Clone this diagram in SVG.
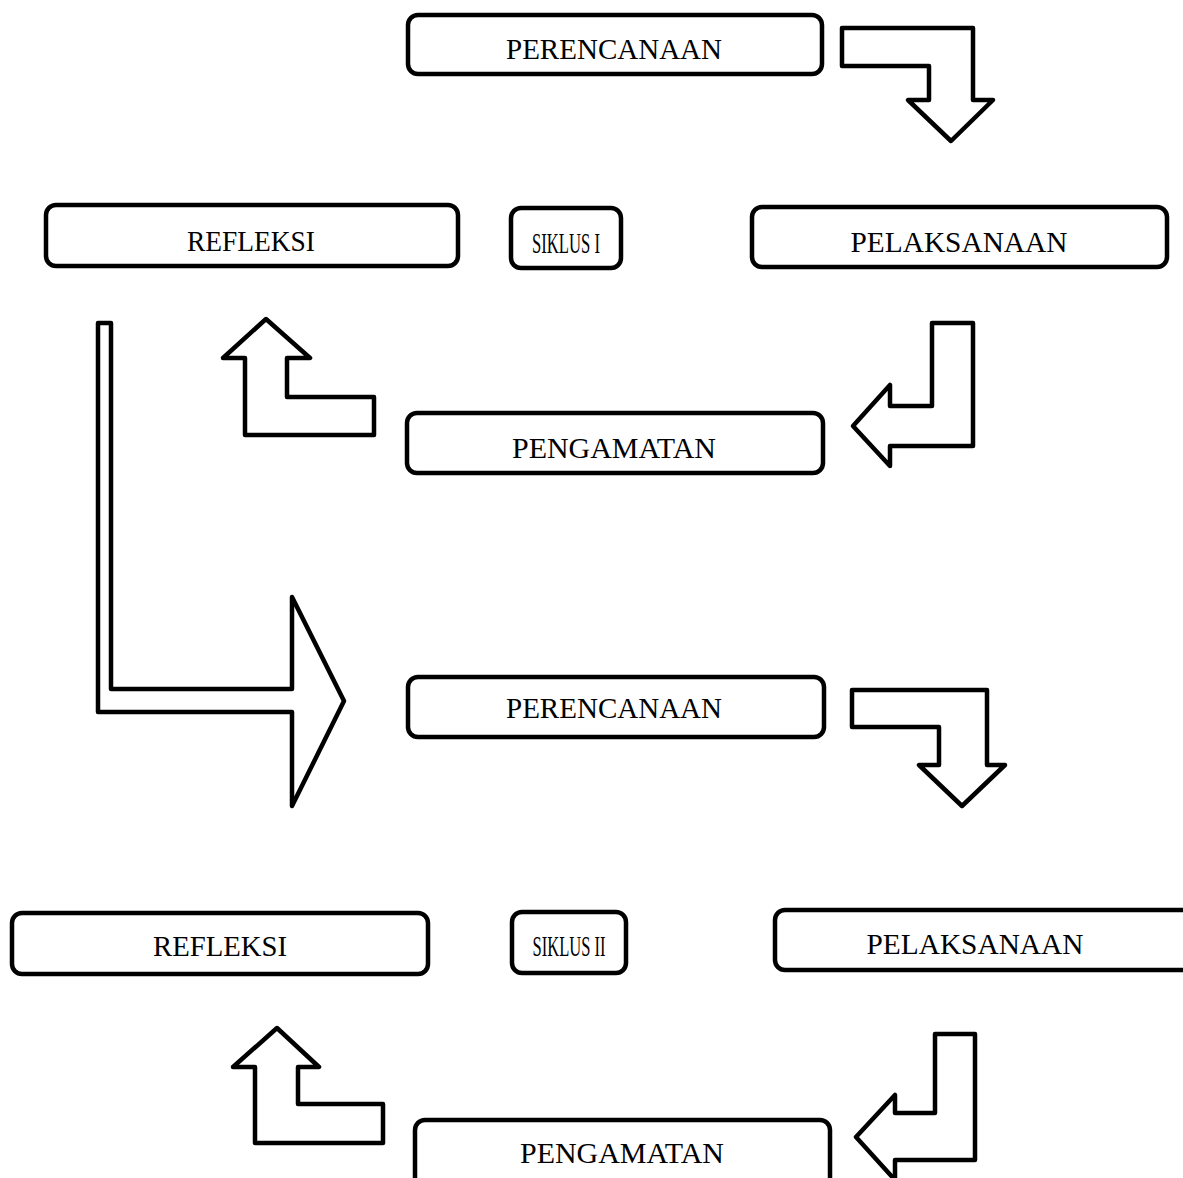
<svg xmlns="http://www.w3.org/2000/svg" width="1183" height="1178" viewBox="0 0 1183 1178">
<style>
.box{fill:#fff;stroke:#000;stroke-width:4.5}
.arr{fill:#fff;stroke:#000;stroke-width:4.5;stroke-linejoin:round}
.t{font-family:"Liberation Serif","Times New Roman",serif;font-size:30px;fill:#000;text-anchor:middle}
</style>
<rect width="1183" height="1178" fill="#fff"/>
<g id="connectors">
<polygon class="arr" points="842,28 973,28 973,100 993,100 951,141 908,100 929,100 929,66 842,66"/>
<polygon class="arr" points="932,323 973,323 973,446 890,446 890,466 853,426 890,385 890,406 932,406"/>
<polygon class="arr" points="266,319 310,358 287,358 287,397 374,397 374,435 245,435 245,358 223,358"/>
<polygon class="arr" points="98,323 111,323 111,689 292,689 292,597 344,701 292,806 292,712 98,712"/>
<polygon class="arr" points="852,690 987,690 987,765 1005,765 962,806 919,765 939,765 939,727 852,727"/>
<polygon class="arr" points="277,1028 319,1067 298,1067 298,1104 383,1104 383,1143 255,1143 255,1067 233,1067"/>
<polygon class="arr" points="935,1034 975,1034 975,1160 895,1160 895,1180 856,1137 895,1095 895,1113 935,1113"/>
</g>
<g id="perencanaan1"><rect class="box" x="408" y="15" width="414" height="59" rx="10"/><text class="t" x="614" y="59" textLength="216" lengthAdjust="spacingAndGlyphs">PERENCANAAN</text></g>
<g id="refleksi1"><rect class="box" x="46" y="205" width="412" height="61" rx="10"/><text class="t" x="251" y="251" textLength="128" lengthAdjust="spacingAndGlyphs">REFLEKSI</text></g>
<g id="siklus1"><rect class="box" x="511" y="208" width="110" height="60" rx="10"/><text class="t" x="566" y="253" textLength="68" lengthAdjust="spacingAndGlyphs">SIKLUS I</text></g>
<g id="pelaksanaan1"><rect class="box" x="752" y="207" width="415" height="60" rx="10"/><text class="t" x="959" y="252" textLength="217" lengthAdjust="spacingAndGlyphs">PELAKSANAAN</text></g>
<g id="pengamatan1"><rect class="box" x="407" y="413" width="416" height="60" rx="10"/><text class="t" x="614" y="458" textLength="204" lengthAdjust="spacingAndGlyphs">PENGAMATAN</text></g>
<g id="perencanaan2"><rect class="box" x="408" y="677" width="416" height="60" rx="10"/><text class="t" x="614" y="718" textLength="216" lengthAdjust="spacingAndGlyphs">PERENCANAAN</text></g>
<g id="refleksi2"><rect class="box" x="12" y="913" width="416" height="61" rx="10"/><text class="t" x="220" y="956" textLength="134" lengthAdjust="spacingAndGlyphs">REFLEKSI</text></g>
<g id="siklus2"><rect class="box" x="512" y="912" width="114" height="61" rx="10"/><text class="t" x="569" y="956" textLength="73" lengthAdjust="spacingAndGlyphs">SIKLUS II</text></g>
<g id="pelaksanaan2"><rect class="box" x="775" y="910" width="420" height="60" rx="10"/><text class="t" x="975" y="954" textLength="217" lengthAdjust="spacingAndGlyphs">PELAKSANAAN</text></g>
<g id="pengamatan2"><rect class="box" x="415" y="1120" width="415" height="70" rx="10"/><text class="t" x="622" y="1163" textLength="204" lengthAdjust="spacingAndGlyphs">PENGAMATAN</text></g>
</svg>
